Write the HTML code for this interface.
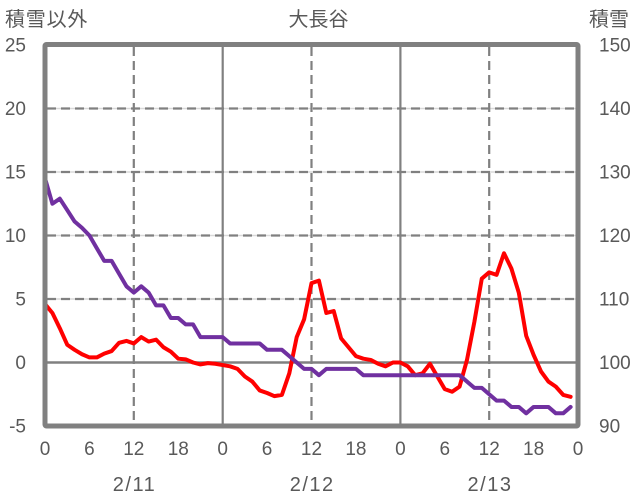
<!DOCTYPE html>
<html><head><meta charset="utf-8"><style>
html,body{margin:0;padding:0;background:#fff;}
svg{display:block;}
.t{font-family:"Liberation Sans","Noto Sans CJK JP",sans-serif;fill:#595959;}
.n{font-size:19px;}
.c{font-family:"Liberation Sans","Noto Sans CJK JP",sans-serif;fill:#595959;font-size:20px;}
</style></head><body>
<svg width="636" height="501" viewBox="0 0 636 501" xmlns="http://www.w3.org/2000/svg">
<rect width="636" height="501" fill="#fff"/>
<g stroke="#d9d9d9" stroke-width="1.5">
<line x1="45" x2="578" y1="108.5" y2="108.5"/>
<line x1="45" x2="578" y1="172" y2="172"/>
<line x1="45" x2="578" y1="235.5" y2="235.5"/>
<line x1="45" x2="578" y1="299" y2="299"/>
</g>
<g stroke="#808080" stroke-width="2.2" stroke-dasharray="9,5">
<line x1="47" x2="578" y1="108.5" y2="108.5"/>
<line x1="47" x2="578" y1="172" y2="172"/>
<line x1="47" x2="578" y1="235.5" y2="235.5"/>
<line x1="47" x2="578" y1="299" y2="299"/>
<line x1="133.8" x2="133.8" y1="47" y2="426"/>
<line x1="311.5" x2="311.5" y1="47" y2="426"/>
<line x1="489.2" x2="489.2" y1="47" y2="426"/>
</g>
<g stroke="#808080">
<line x1="45" x2="578" y1="362.5" y2="362.5" stroke-width="2.6"/>
<line x1="222.7" x2="222.7" y1="45" y2="426" stroke-width="2.2"/>
<line x1="400.4" x2="400.4" y1="45" y2="426" stroke-width="2.2"/>
</g>
<g transform="translate(45,362.5) scale(7.403,-12.7)" fill="none" stroke-linejoin="round" stroke-linecap="round">
<polyline vector-effect="non-scaling-stroke" stroke="#ff0000" stroke-width="4" points="0,4.6 1,3.9 2,2.7 3,1.4 4,1.0 5,0.65 6,0.4 7,0.4 8,0.7 9,0.9 10,1.55 11,1.7 12,1.5 13,2.0 14,1.65 15,1.8 16,1.2 17,0.85 18,0.3 19,0.25 20,0 21,-0.15 22,-0.05 23,-0.1 24,-0.2 25,-0.3 26,-0.5 27,-1.1 28,-1.5 29,-2.2 30,-2.4 31,-2.65 32,-2.55 33,-0.85 34,2.0 35,3.4 36,6.25 37,6.45 38,3.9 39,4.05 40,1.9 41,1.2 42,0.5 43,0.3 44,0.2 45,-0.1 46,-0.3 47,0 48,0 49,-0.3 50,-1.0 51,-0.85 52,-0.1 53,-1.1 54,-2.1 55,-2.3 56,-1.9 57,0.2 58,3.2 59,6.6 60,7.1 61,6.9 62,8.6 63,7.4 64,5.5 65,2.1 66,0.6 67,-0.7 68,-1.5 69,-1.9 70,-2.55 71,-2.7"/>
<polyline vector-effect="non-scaling-stroke" stroke="#7030a0" stroke-width="4" points="0,14.5 1,12.5 2,12.9 3,12.0 4,11.1 5,10.6 6,10.0 7,9.0 8,8.0 9,8.0 10,7.0 11,6.0 12,5.5 13,6.0 14,5.5 15,4.5 16,4.5 17,3.5 18,3.5 19,3.0 20,3.0 21,2.0 22,2.0 23,2.0 24,2.0 25,1.5 26,1.5 27,1.5 28,1.5 29,1.5 30,1.0 31,1.0 32,1.0 33,0.5 34,0 35,-0.5 36,-0.5 37,-1.0 38,-0.5 39,-0.5 40,-0.5 41,-0.5 42,-0.5 43,-1.0 44,-1 45,-1 46,-1 47,-1 48,-1 49,-1 50,-1 51,-1 52,-1 53,-1 54,-1 55,-1 56,-1.0 57,-1.5 58,-2.0 59,-2.0 60,-2.5 61,-3.0 62,-3.0 63,-3.5 64,-3.5 65,-4.0 66,-3.5 67,-3.5 68,-3.5 69,-4.0 70,-4.0 71,-3.5"/>
</g>
<rect x="45" y="44.5" width="533" height="381.5" fill="none" stroke="#808080" stroke-width="5" rx="1.5"/>
<g class="t n" text-anchor="end">
<text x="26" y="51.5">25</text>
<text x="26" y="115">20</text>
<text x="26" y="178.5">15</text>
<text x="26" y="242">10</text>
<text x="26" y="305.5">5</text>
<text x="26" y="369">0</text>
<text x="26" y="432.5">-5</text>
</g>
<g class="t n" text-anchor="start">
<text x="599" y="51.5">150</text>
<text x="599" y="115">140</text>
<text x="599" y="178.5">130</text>
<text x="599" y="242">120</text>
<text x="599" y="305.5">110</text>
<text x="599" y="369">100</text>
<text x="599" y="432.5">90</text>
</g>
<g class="t n" text-anchor="middle">
<text x="45" y="455">0</text>
<text x="89.4" y="455">6</text>
<text x="133.8" y="455">12</text>
<text x="178.3" y="455">18</text>
<text x="222.7" y="455">0</text>
<text x="267.1" y="455">6</text>
<text x="311.5" y="455">12</text>
<text x="355.9" y="455">18</text>
<text x="400.4" y="455">0</text>
<text x="444.8" y="455">6</text>
<text x="489.2" y="455">12</text>
<text x="533.6" y="455">18</text>
<text x="578" y="455">0</text>
</g>
<g class="t" style="font-size:20px;letter-spacing:1.5px" text-anchor="middle">
<text x="134.5" y="491">2/11</text>
<text x="312.2" y="491">2/12</text>
<text x="490" y="491">2/13</text>
</g>
<text class="c" x="5" y="26" style="letter-spacing:0.8px">積雪以外</text>
<text class="c" x="318.5" y="26" text-anchor="middle">大長谷</text>
<text class="c" x="589" y="26">積雪</text>
</svg>
</body></html>
